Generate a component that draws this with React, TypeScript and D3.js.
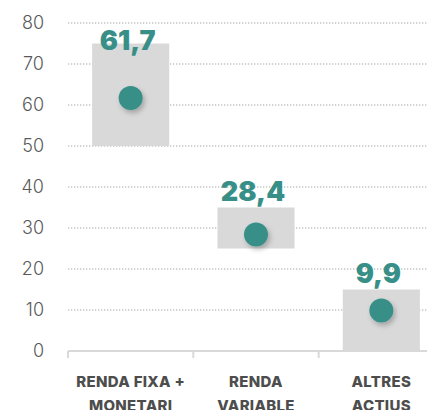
import React, { useRef, useEffect } from "react";
import * as d3 from "d3";

const categories = ["RENDA FIXA +|MONETARI", "RENDA|VARIABLE", "ALTRES|ACTIUS"];
const rangeLow = [50, 25, 0];
const rangeHigh = [75, 35, 15];
const values = [61.7, 28.4, 9.9];
const valueLabels = ["61,7", "28,4", "9,9"];
const yTicks = [0, 10, 20, 30, 40, 50, 60, 70, 80];

const App: React.FC = () => {
  const svgRef = useRef<SVGSVGElement | null>(null);
  const width = 427;
  const height = 410;

  useEffect(() => {
    const svg = d3.select(svgRef.current);
    svg.selectAll("*").remove();

    const margin = { top: 23, left: 68, bottom: 59 };
    const plotRight = 444; // chart continues past the window edge
    const h = height - margin.top - margin.bottom;

    const x = d3
      .scaleBand<number>()
      .domain(d3.range(categories.length))
      .range([margin.left, plotRight]);

    const y = d3
      .scaleLinear()
      .domain([0, 80])
      .range([margin.top + h, margin.top]);

    const defs = svg.append("defs");
    const filter = defs
      .append("filter")
      .attr("id", "dotShadow")
      .attr("x", "-50%")
      .attr("y", "-50%")
      .attr("width", "200%")
      .attr("height", "200%");
    filter
      .append("feDropShadow")
      .attr("dx", 2)
      .attr("dy", 3)
      .attr("stdDeviation", 2.5)
      .attr("flood-color", "#000")
      .attr("flood-opacity", 0.25);

    // grid
    svg
      .append("g")
      .selectAll("line")
      .data(yTicks.filter((t) => t > 0))
      .enter()
      .append("line")
      .attr("x1", margin.left)
      .attr("x2", width)
      .attr("y1", (d) => y(d))
      .attr("y2", (d) => y(d))
      .attr("stroke", "#c4c4c4")
      .attr("stroke-width", 1.3)
      .attr("stroke-dasharray", "1.3 1.7");

    // y labels
    svg
      .append("g")
      .selectAll("text")
      .data(yTicks)
      .enter()
      .append("text")
      .attr("x", 44)
      .attr("y", (d) => y(d))
      .attr("dy", "0.36em")
      .attr("text-anchor", "end")
      .style("font-family", "Inter, 'Noto Sans', sans-serif")
      .style("font-weight", "300")
      .style("font-size", "18px")
      .style("fill", "#5a5a5a")
      .text((d) => d);

    // axis line + ticks
    svg
      .append("line")
      .attr("x1", margin.left)
      .attr("x2", width)
      .attr("y1", y(0))
      .attr("y2", y(0))
      .attr("stroke", "#d9d9d9")
      .attr("stroke-width", 2);

    svg
      .append("g")
      .selectAll("line")
      .data(d3.range(categories.length))
      .enter()
      .append("line")
      .attr("x1", (d) => x(d)!)
      .attr("x2", (d) => x(d)!)
      .attr("y1", y(0))
      .attr("y2", y(0) + 7)
      .attr("stroke", "#d9d9d9")
      .attr("stroke-width", 2);

    const barW = x.bandwidth() * 0.615;

    // range bars
    svg
      .append("g")
      .selectAll("rect")
      .data(d3.range(categories.length))
      .enter()
      .append("rect")
      .attr("x", (i) => x(i)! + (x.bandwidth() - barW) / 2)
      .attr("width", barW)
      .attr("y", (i) => y(rangeHigh[i]))
      .attr("height", (i) => y(rangeLow[i]) - y(rangeHigh[i]))
      .attr("fill", "#d9d9d9");

    // dots
    svg
      .append("g")
      .selectAll("circle")
      .data(d3.range(categories.length))
      .enter()
      .append("circle")
      .attr("cx", (i) => x(i)! + x.bandwidth() / 2)
      .attr("cy", (i) => y(values[i]))
      .attr("r", 12)
      .attr("fill", "#378f88")
      .attr("filter", "url(#dotShadow)");

    // value labels
    svg
      .append("g")
      .selectAll("text")
      .data(d3.range(categories.length))
      .enter()
      .append("text")
      .attr("x", (i) => x(i)! + x.bandwidth() / 2 - 3)
      .attr("y", (i) => Math.max(y(rangeHigh[i]) - 7, 50))
      .attr("text-anchor", "middle")
      .style("font-family", "Inter, 'Noto Sans', sans-serif")
      .style("font-weight", "900")
      .style("font-size", "27px")
      .style("fill", "#378f88")
      .text((i) => valueLabels[i]);

    // category labels
    const cat = svg
      .append("g")
      .selectAll("text")
      .data(d3.range(categories.length))
      .enter()
      .append("text")
      .attr("x", (i) => x(i)! + x.bandwidth() / 2)
      .attr("y", 387)
      .attr("text-anchor", "middle")
      .style("font-family", "Inter, 'Noto Sans', sans-serif")
      .style("font-weight", "800")
      .style("font-size", "15px")
      .style("letter-spacing", "0.3px")
      .style("fill", "#4d4d4d");

    cat.each(function (i) {
      const lines = categories[i].split("|");
      d3.select(this)
        .selectAll("tspan")
        .data(lines)
        .enter()
        .append("tspan")
        .attr("x", x(i)! + x.bandwidth() / 2)
        .attr("dy", (_d, k) => (k === 0 ? 0 : 24))
        .text((d) => d);
    });
  }, []);

  return (
    <svg
      ref={svgRef}
      width={width}
      height={height}
      style={{ position: "absolute", left: 0, top: 0, background: "#fff" }}
    ></svg>
  );
};

export default App;
